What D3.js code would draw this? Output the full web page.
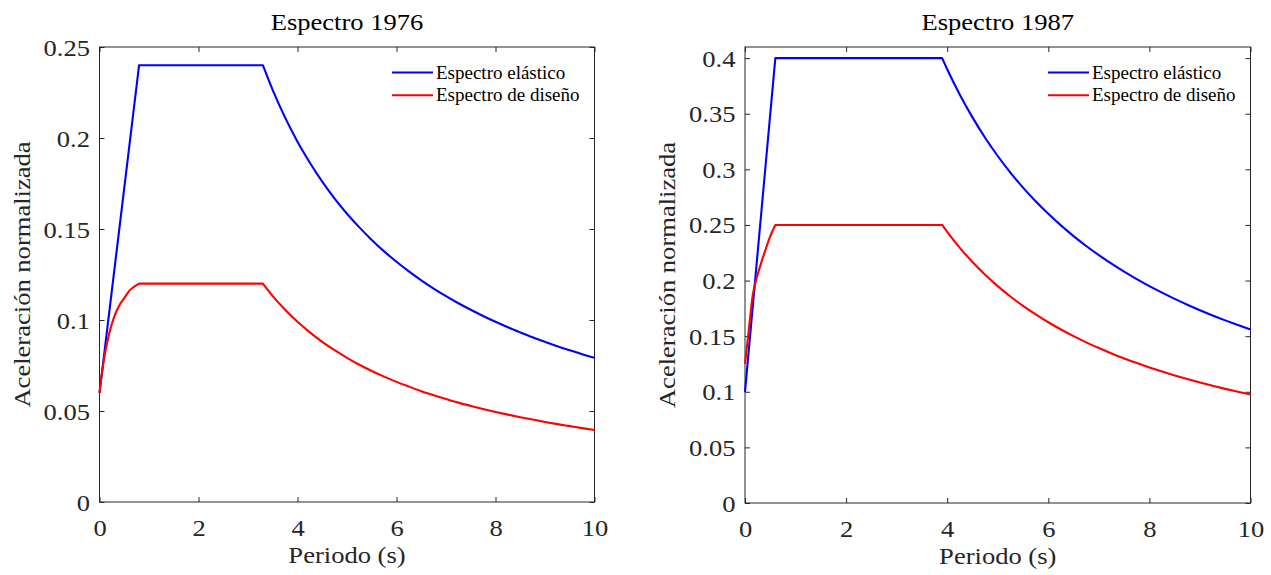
<!DOCTYPE html>
<html>
<head>
<meta charset="utf-8">
<script src="https://cdn.jsdelivr.net/npm/d3@7"></script>
<style>
  html, body { margin: 0; padding: 0; background: #fff; }
  svg { display: block; }
</style>
</head>
<body>
<svg id="chart" width="1271" height="575"></svg>
<script>
// ---- Espectro 1976 ----
const periodElastic76 = [0, 0.8, 3.3, 3.5, 3.75, 4, 4.25, 4.5, 4.75, 5, 5.25, 5.5, 5.75, 6, 6.25, 6.5, 6.75, 7, 7.25, 7.5, 7.75, 8, 8.25, 8.5, 8.75, 9, 9.25, 9.5, 9.75, 10];
const elastic76 = [0.0600, 0.2400, 0.2400, 0.2263, 0.2112, 0.1980, 0.1864, 0.1760, 0.1667, 0.1584, 0.1509, 0.1440, 0.1377, 0.1320, 0.1267, 0.1218, 0.1173, 0.1131, 0.1092, 0.1056, 0.1022, 0.0990, 0.0960, 0.0932, 0.0905, 0.0880, 0.0856, 0.0834, 0.0812, 0.0792];
const periodDesign76 = [0, 0.05, 0.1, 0.15, 0.2, 0.3, 0.4, 0.5, 0.6, 0.7, 0.8, 3.3, 3.5, 3.75, 4, 4.25, 4.5, 4.75, 5, 5.25, 5.5, 5.75, 6, 6.25, 6.5, 6.75, 7, 7.25, 7.5, 7.75, 8, 8.25, 8.5, 8.75, 9, 9.25, 9.5, 9.75, 10];
const design76 = [0.0600, 0.0710, 0.0800, 0.0870, 0.0930, 0.1020, 0.1080, 0.1120, 0.1160, 0.1183, 0.1200, 0.1200, 0.1131, 0.1056, 0.0990, 0.0932, 0.0880, 0.0834, 0.0792, 0.0754, 0.0720, 0.0689, 0.0660, 0.0634, 0.0609, 0.0587, 0.0566, 0.0546, 0.0528, 0.0511, 0.0495, 0.0480, 0.0466, 0.0453, 0.0440, 0.0428, 0.0417, 0.0406, 0.0396];
const corners76 = [0.8, 3.3];
const yTicks76 = [0, 0.05, 0.1, 0.15, 0.2, 0.25];
const yTickLabels76 = ["0", "0.05", "0.1", "0.15", "0.2", "0.25"];

// ---- Espectro 1987 ----
const periodElastic87 = [0, 0.6, 3.9, 4, 4.25, 4.5, 4.75, 5, 5.25, 5.5, 5.75, 6, 6.25, 6.5, 6.75, 7, 7.25, 7.5, 7.75, 8, 8.25, 8.5, 8.75, 9, 9.25, 9.5, 9.75, 10];
const elastic87 = [0.1000, 0.4000, 0.4000, 0.3900, 0.3671, 0.3467, 0.3284, 0.3120, 0.2971, 0.2836, 0.2713, 0.2600, 0.2496, 0.2400, 0.2311, 0.2229, 0.2152, 0.2080, 0.2013, 0.1950, 0.1891, 0.1835, 0.1783, 0.1733, 0.1686, 0.1642, 0.1600, 0.1560];
const periodDesign87 = [0, 0.05, 0.1, 0.15, 0.2, 0.3, 0.4, 0.5, 0.6, 3.9, 4, 4.25, 4.5, 4.75, 5, 5.25, 5.5, 5.75, 6, 6.25, 6.5, 6.75, 7, 7.25, 7.5, 7.75, 8, 8.25, 8.5, 8.75, 9, 9.25, 9.5, 9.75, 10];
const design87 = [0.1250, 0.1450, 0.1660, 0.1860, 0.1970, 0.2130, 0.2270, 0.2400, 0.2500, 0.2500, 0.2438, 0.2294, 0.2167, 0.2053, 0.1950, 0.1857, 0.1773, 0.1696, 0.1625, 0.1560, 0.1500, 0.1444, 0.1393, 0.1345, 0.1300, 0.1258, 0.1219, 0.1182, 0.1147, 0.1114, 0.1083, 0.1054, 0.1026, 0.1000, 0.0975];
const corners87 = [0.6, 3.9];
const yTicks87 = [0, 0.05, 0.1, 0.15, 0.2, 0.25, 0.3, 0.35, 0.4];
const yTickLabels87 = ["0", "0.05", "0.1", "0.15", "0.2", "0.25", "0.3", "0.35", "0.4"];

const xTicks = [0, 2, 4, 6, 8, 10];
const xTickLabels = ["0", "2", "4", "6", "8", "10"];
const seriesNames = ["Espectro elástico", "Espectro de diseño"];
const seriesColors = ["#0000ff", "#ff0000"];

const svg = d3.select("#chart");
const axisColor = "#262626";
const serif = "'Liberation Serif', 'Times New Roman', serif";
const fontSize = 23.5;
const widen = 1.13;   // horizontal stretch of the axis texts

// widen text glyphs horizontally while keeping them as text
function stretch(sel) {
  sel.each(function () {
    const w = this.getComputedTextLength();
    d3.select(this).attr("textLength", w * widen).attr("lengthAdjust", "spacingAndGlyphs");
  });
}

function styleText(sel, size, color) {
  sel.style("font-family", serif).style("font-size", size + "px").style("fill", color);
}

function panel(cfg) {
  const x = d3.scaleLinear().domain([0, 10]).range([cfg.left, cfg.right]);
  const y = d3.scaleLinear().domain([0, cfg.yMax]).range([cfg.bottom, cfg.top]);
  const g = svg.append("g");

  // box with inward ticks on all four sides
  const tickLen = 5;
  const axB = g.append("g").attr("transform", `translate(0,${cfg.bottom})`)
    .call(d3.axisBottom(x).tickValues(xTicks).tickSizeInner(-tickLen).tickSizeOuter(0).tickFormat((d, i) => xTickLabels[i]));
  const axT = g.append("g").attr("transform", `translate(0,${cfg.top})`)
    .call(d3.axisTop(x).tickValues(xTicks).tickSizeInner(-tickLen).tickSizeOuter(0).tickFormat(""));
  const axL = g.append("g").attr("transform", `translate(${cfg.left},0)`)
    .call(d3.axisLeft(y).tickValues(cfg.yTicks).tickSizeInner(-tickLen).tickSizeOuter(0).tickFormat((d, i) => cfg.yLabels[i]));
  const axR = g.append("g").attr("transform", `translate(${cfg.right},0)`)
    .call(d3.axisRight(y).tickValues(cfg.yTicks).tickSizeInner(-tickLen).tickSizeOuter(0).tickFormat(""));

  [axB, axT, axL, axR].forEach(a => {
    a.select(".domain").remove();
    a.selectAll(".tick line").attr("stroke", axisColor).attr("stroke-width", 1);
    styleText(a.selectAll("text"), fontSize, axisColor);
  });
  axB.selectAll("text").attr("y", 33.5).attr("dy", null);
  axL.selectAll("text").attr("x", -9.5).attr("dy", "0.34em");
  stretch(axB.selectAll("text"));
  stretch(axL.selectAll("text"));

  g.append("rect")
    .attr("x", cfg.left).attr("y", cfg.top)
    .attr("width", cfg.right - cfg.left).attr("height", cfg.bottom - cfg.top)
    .attr("fill", "none").attr("stroke", axisColor).attr("stroke-width", 1);

  // spectra curves: smooth pieces joined at the sharp corners of each spectrum
  const piece = d3.line().x(d => x(d[0])).y(d => y(d[1])).curve(d3.curveMonotoneX);
  cfg.series.forEach((s, i) => {
    const pts = s.t.map((t, k) => [t, s.v[k]]);
    const cuts = [0];
    pts.forEach((p, k) => { if (k > 0 && k < pts.length - 1 && cfg.corners.includes(p[0])) cuts.push(k); });
    cuts.push(pts.length - 1);
    let d = "";
    for (let c = 0; c < cuts.length - 1; c++) {
      const seg = piece(pts.slice(cuts[c], cuts[c + 1] + 1));
      d += c === 0 ? seg : seg.replace(/^M[^CLMZ]*/, "");
    }
    g.append("path")
      .attr("fill", "none")
      .attr("stroke", seriesColors[i])
      .attr("stroke-width", 2.1)
      .attr("stroke-linejoin", "round")
      .attr("d", d);
  });

  // title and axis labels
  const cx = (cfg.left + cfg.right) / 2;
  const title = g.append("text").attr("x", cx).attr("y", 30).attr("text-anchor", "middle").text(cfg.title);
  styleText(title, fontSize, "#000");
  const xl = g.append("text").attr("x", cx).attr("y", cfg.bottom + 61).attr("text-anchor", "middle").text("Periodo (s)");
  styleText(xl, fontSize, axisColor);
  const yl = g.append("text")
    .attr("transform", `translate(${cfg.yLabelX},${(cfg.top + cfg.bottom) / 2}) rotate(-90)`)
    .attr("text-anchor", "middle").text("Aceleración normalizada");
  styleText(yl, fontSize, axisColor);
  stretch(title); stretch(xl); stretch(yl);

  // legend
  seriesNames.forEach((name, i) => {
    const ly = cfg.legendY + i * 22.7;
    g.append("line")
      .attr("x1", cfg.legendX).attr("x2", cfg.legendX + 41)
      .attr("y1", ly).attr("y2", ly)
      .attr("stroke", seriesColors[i]).attr("stroke-width", 2.1);
    const t = g.append("text")
      .attr("x", cfg.legendX + 44).attr("y", ly).attr("dy", "0.33em").text(name);
    styleText(t, 19, "#000");
  });
}

panel({
  left: 99.5, right: 594.5, top: 47, bottom: 502, yMax: 0.25,
  yTicks: yTicks76, yLabels: yTickLabels76, yLabelX: 30, corners: corners76,
  title: "Espectro 1976",
  legendX: 392, legendY: 72.5,
  series: [{ t: periodElastic76, v: elastic76 }, { t: periodDesign76, v: design76 }]
});

panel({
  left: 745, right: 1250.5, top: 47, bottom: 503, yMax: 0.41,
  yTicks: yTicks87, yLabels: yTickLabels87, yLabelX: 675, corners: corners87,
  title: "Espectro 1987",
  legendX: 1048, legendY: 72.5,
  series: [{ t: periodElastic87, v: elastic87 }, { t: periodDesign87, v: design87 }]
});
</script>
</body>
</html>
